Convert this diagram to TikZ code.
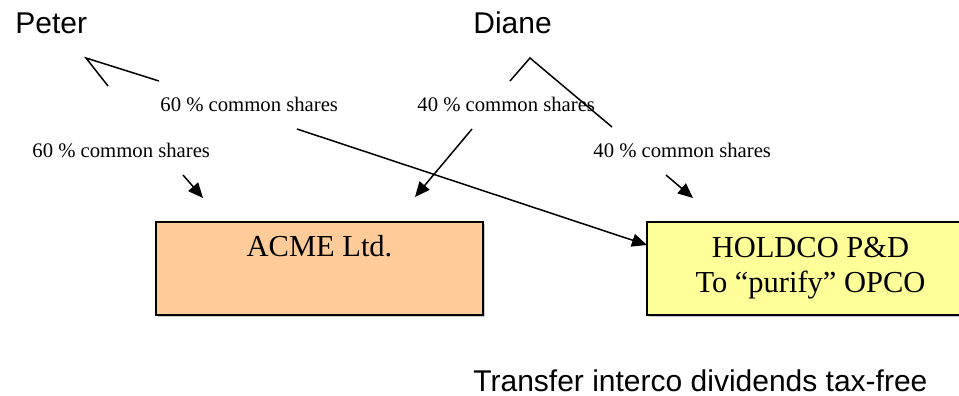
\documentclass[tikz,border=0pt]{standalone}
\usepackage{fontspec}
\setmainfont{Liberation Serif}
\newfontfamily\arialfont{Liberation Sans}
\usetikzlibrary{arrows.meta,shadows}

\begin{document}
\begin{tikzpicture}[x=0.5pt,y=-0.5pt]

    \tikzstyle{company}=[rectangle, draw=black, line width=1pt, minimum width=163.5pt, minimum height=46.5pt,
                         align=center, font=\fontsize{15.25}{17.5}\selectfont,
                         drop shadow={shadow xshift=0.8pt, shadow yshift=-0.8pt, fill=gray!70, opacity=0.6}]
    \tikzstyle{person}=[anchor=base west, inner sep=0pt, font=\arialfont\fontsize{15}{18}\selectfont]
    \tikzstyle{share}=[anchor=base west, inner sep=0pt, font=\fontsize{10.35}{12}\selectfont]
    \tikzstyle{link}=[line width=0.75pt]
    \tikzstyle{arrow}=[line width=0.75pt, -{Triangle[length=7.5pt,width=6.5pt]}]

    \path[use as bounding box] (0,0) rectangle (959,396);
    \clip (0,0) rectangle (959,396);

    % owners
    \node[person] (peter) at (15,33)  {Peter};
    \node[person] (diane) at (473,33) {Diane};

    % companies
    \node[company, fill={rgb,255:red,255;green,204;blue,153}] (acme)   at (319.5,268.5) {ACME Ltd.\\\strut};
    \node[company, fill={rgb,255:red,255;green,255;blue,153}] (holdco) at (810.5,268.5) {HOLDCO P\&D\\To “purify” OPCO};

    % share labels
    \node[share] (pa) at (160,111) {60 \% common shares};
    \node[share] (pb) at (32,157)  {60 \% common shares};
    \node[share] (da) at (417,111) {40 \% common shares};
    \node[share] (db) at (593,157) {40 \% common shares};

    \node[person] (note) at (473,391) {Transfer interco dividends tax-free};

    % line ends
    \coordinate (pv)  at (86,58);
    \coordinate (pv1) at (108,86);
    \coordinate (pv2) at (159,81);
    \coordinate (ph)  at (297,129);
    \coordinate (pa1) at (183,175);
    \coordinate (pa2) at (203,198);
    \coordinate (dv)  at (530,58);
    \coordinate (dv1) at (510,81);
    \coordinate (dv2) at (612,127);
    \coordinate (da1) at (472,129);
    \coordinate (da2) at (415,197);
    \coordinate (db1) at (666,175);
    \coordinate (db2) at (693,198);
    \coordinate (hin) at (647,245);

    \draw[link] (pv1) -- (pv) -- (pv2)
                (dv1) -- (dv) -- (dv2);

    \draw[arrow] (ph)  -- (hin);
    \draw[arrow] (pa1) -- (pa2);
    \draw[arrow] (da1) -- (da2);
    \draw[arrow] (db1) -- (db2);

\end{tikzpicture}
\end{document}
